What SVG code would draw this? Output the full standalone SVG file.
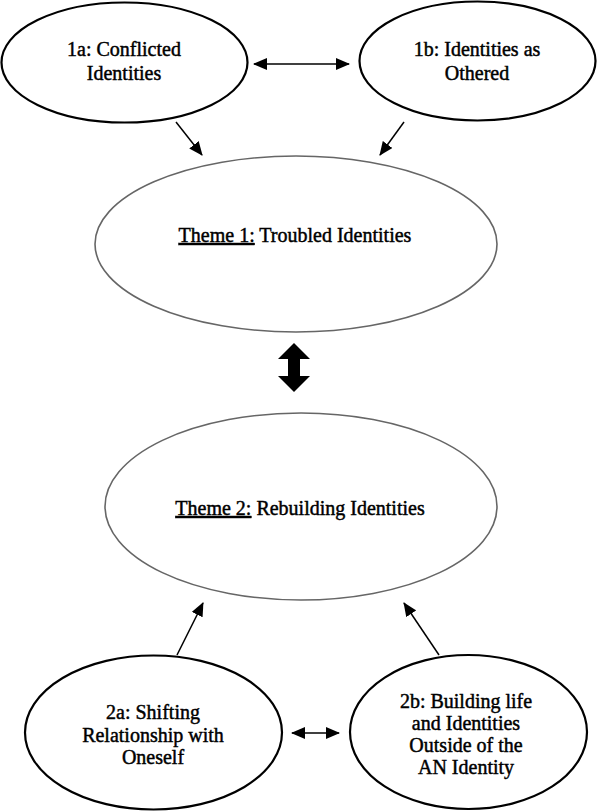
<svg xmlns="http://www.w3.org/2000/svg" width="597" height="811" viewBox="0 0 597 811">
<defs>
<style>
.sub{fill:#fff;stroke:#000;stroke-width:2.2}
.theme{fill:#fff;stroke:#666;stroke-width:1.6}
text{font-family:"Liberation Serif","Times New Roman",serif;font-size:20px;fill:#000;stroke:#000;stroke-width:0.45;text-anchor:middle}
.u{text-decoration:underline}
.c{stroke:#000;stroke-width:1.5;fill:none}
</style>
<marker id="ah" markerUnits="userSpaceOnUse" markerWidth="14" markerHeight="12" viewBox="0 0 14 12" refX="13" refY="6" orient="auto-start-reverse">
<path d="M0,0 L14,6 L0,12 z" fill="#000"/>
</marker>
</defs>
<rect width="597" height="811" fill="#fff"/>
<g id="connectors">
<line class="c" x1="254" y1="64" x2="349" y2="64" marker-start="url(#ah)" marker-end="url(#ah)"/>
<line class="c" x1="176" y1="122" x2="202" y2="155" marker-end="url(#ah)"/>
<line class="c" x1="404" y1="122" x2="380" y2="155" marker-end="url(#ah)"/>
<path d="M294,343 L310,359 L300,359 L300,376 L310,376 L294,392 L278,376 L288,376 L288,359 L278,359 z" fill="#000"/>
<line class="c" x1="177" y1="655" x2="203" y2="603" marker-end="url(#ah)"/>
<line class="c" x1="439" y1="655" x2="404" y2="603" marker-end="url(#ah)"/>
<line class="c" x1="292" y1="733" x2="339" y2="733" marker-start="url(#ah)" marker-end="url(#ah)"/>
</g>
<g id="n1a">
<ellipse class="sub" cx="124.5" cy="62.5" rx="123" ry="60"/>
<text x="124" y="56">1a: Conflicted</text>
<text x="124" y="80">Identities</text>
</g>
<g id="n1b">
<ellipse class="sub" cx="477.5" cy="61" rx="118" ry="59.5"/>
<text x="477" y="56">1b: Identities as</text>
<text x="477" y="80">Othered</text>
</g>
<g id="theme1">
<ellipse class="theme" cx="296" cy="244" rx="201" ry="88"/>
<text x="295" y="242"><tspan class="u">Theme 1:</tspan> Troubled Identities</text>
</g>
<g id="theme2">
<ellipse class="theme" cx="301" cy="506.5" rx="196" ry="93.5"/>
<text x="300" y="515"><tspan class="u">Theme 2:</tspan> Rebuilding Identities</text>
</g>
<g id="n2a">
<ellipse class="sub" cx="153.5" cy="732.5" rx="128.5" ry="77"/>
<text x="153" y="719">2a: Shifting</text>
<text x="153" y="742">Relationship with</text>
<text x="153" y="764">Oneself</text>
</g>
<g id="n2b">
<ellipse class="sub" cx="468.5" cy="732" rx="118.5" ry="77"/>
<text x="466" y="708">2b: Building life</text>
<text x="466" y="730">and Identities</text>
<text x="466" y="752">Outside of the</text>
<text x="466" y="774">AN Identity</text>
</g>
</svg>
